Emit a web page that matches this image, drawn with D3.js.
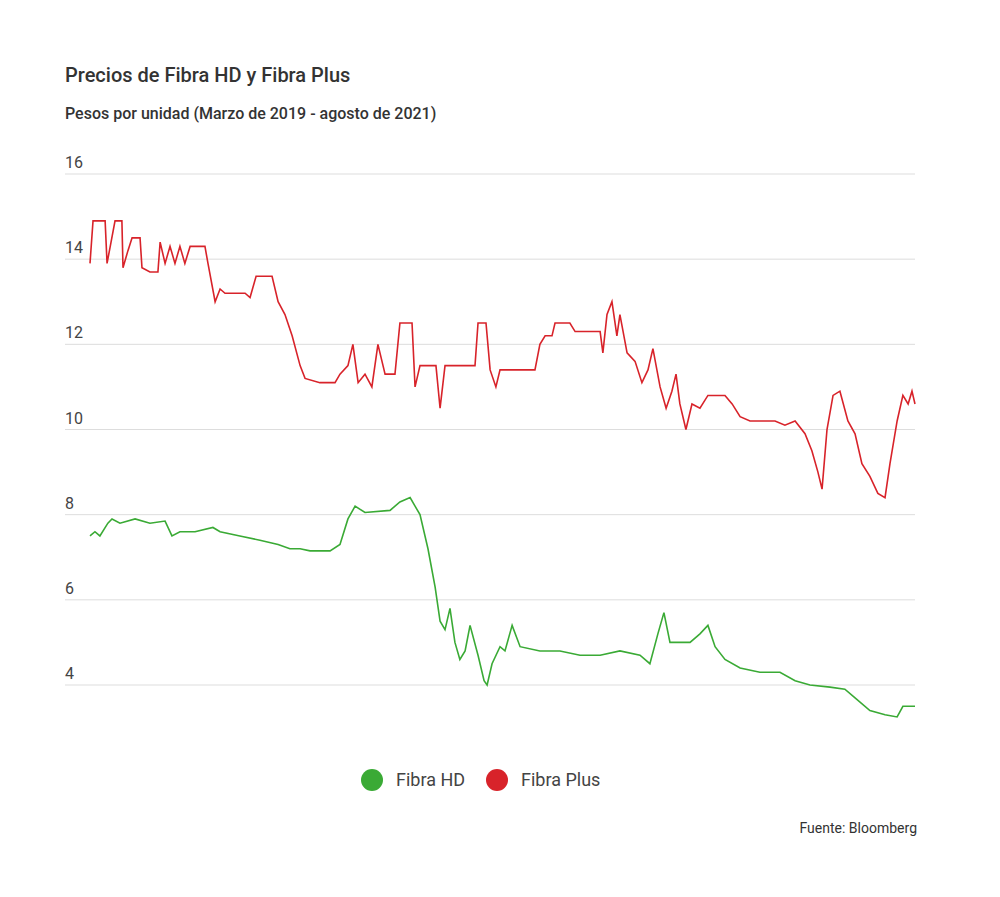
<!DOCTYPE html>
<html><head><meta charset="utf-8">
<script src="https://cdn.jsdelivr.net/npm/d3@7"></script>
<style>body{margin:0;background:#fff;font-family:Roboto,sans-serif}</style>
</head><body><svg id="chart" width="1000" height="897"></svg>
<script>
// months since March 2019
var plusMonths = [0,.11,.55,.62,.91,1.16,1.2,1.38,1.53,1.82,1.89,2.18,2.47,2.55,2.73,2.91,3.09,3.27,3.45,3.64,4.18,4.29,4.55,4.73,4.91,5.64,5.82,6.04,6.62,6.84,7.09,7.35,7.64,7.82,8.36,8.91,9.09,9.38,9.56,9.75,10,10.25,10.47,10.73,11.09,11.27,11.71,11.82,12,12.58,12.73,12.91,14,14.11,14.4,14.55,14.76,14.91,16.18,16.36,16.55,16.8,16.91,17.45,17.64,18.55,18.65,18.8,18.98,19.16,19.27,19.53,19.82,20.07,20.29,20.47,20.73,20.95,21.16,21.31,21.45,21.67,21.89,22.18,22.47,23.09,23.35,23.64,24,24.91,25.27,25.64,26,26.25,26.47,26.62,26.8,27.02,27.27,27.56,27.82,28.07,28.36,28.65,28.91,29.09,29.35,29.56,29.75,29.89,30];
var plusValues = [13.9,14.9,14.9,13.9,14.9,14.9,13.8,14.2,14.5,14.5,13.8,13.7,13.7,14.4,13.9,14.3,13.9,14.3,13.9,14.3,14.3,13.9,13.0,13.3,13.2,13.2,13.1,13.6,13.6,13.0,12.7,12.2,11.5,11.2,11.1,11.1,11.3,11.5,12.0,11.1,11.3,11.0,12.0,11.3,11.3,12.5,12.5,11.0,11.5,11.5,10.5,11.5,11.5,12.5,12.5,11.4,11.0,11.4,11.4,12.0,12.2,12.2,12.5,12.5,12.3,12.3,11.8,12.7,13.0,12.2,12.7,11.8,11.6,11.1,11.4,11.9,11.0,10.5,10.9,11.3,10.6,10.0,10.6,10.5,10.8,10.8,10.6,10.3,10.2,10.2,10.1,10.2,9.9,9.5,9.0,8.6,10.0,10.8,10.9,10.2,9.9,9.2,8.9,8.5,8.4,9.2,10.2,10.8,10.6,10.9,10.6];
var hdMonths = [0,.18,.36,.65,.8,1.09,1.64,2.18,2.73,2.98,3.27,3.82,4.47,4.73,5.45,6.18,6.84,7.27,7.64,8,8.73,9.09,9.38,9.64,10,10.91,11.27,11.64,11.82,12,12.29,12.55,12.73,12.91,13.09,13.27,13.45,13.64,13.82,14.11,14.33,14.44,14.62,14.91,15.09,15.35,15.64,16.36,17.09,17.82,18.55,19.27,20,20.36,20.65,20.87,21.09,21.82,22.18,22.47,22.73,23.09,23.64,24.36,25.09,25.64,26.18,26.91,27.45,27.82,28.36,28.91,29.35,29.56,30];
var hdValues = [7.5,7.6,7.5,7.8,7.9,7.8,7.9,7.8,7.85,7.5,7.6,7.6,7.7,7.6,7.5,7.4,7.3,7.2,7.2,7.15,7.15,7.3,7.9,8.2,8.05,8.1,8.3,8.4,8.2,8.0,7.2,6.3,5.5,5.3,5.8,5.0,4.6,4.8,5.4,4.7,4.1,4.0,4.5,4.9,4.8,5.4,4.9,4.8,4.8,4.7,4.7,4.8,4.7,4.5,5.2,5.7,5.0,5.0,5.2,5.4,4.9,4.6,4.4,4.3,4.3,4.1,4.0,3.95,3.9,3.7,3.4,3.3,3.25,3.5,3.5];
var yTicks = [4,6,8,10,12,14,16];

var svg = d3.select("#chart");
var x = d3.scaleLinear().domain([0,30]).range([90,915]);
var y = d3.scaleLinear().domain([4,16]).range([685,174]);

svg.append("text").attr("x",65).attr("y",82).attr("font-size",20).attr("font-weight",500).attr("fill","#333").text("Precios de Fibra HD y Fibra Plus");
svg.append("text").attr("x",65).attr("y",119).attr("font-size",16).attr("font-weight",500).attr("fill","#333").text("Pesos por unidad (Marzo de 2019 - agosto de 2021)");

var g = svg.append("g");
yTicks.forEach(function(t){
	g.append("line").attr("x1",65).attr("x2",915).attr("y1",y(t)).attr("y2",y(t)).attr("stroke","#ddd");
	g.append("text").attr("x",65).attr("y",y(t)-6).attr("font-size",16).attr("fill","#444").text(t);
});

var line = d3.line().x(function(d){return x(d[0]);}).y(function(d){return y(d[1]);});
svg.append("path").datum(d3.zip(plusMonths,plusValues)).attr("d",line).attr("fill","none").attr("stroke","#d8232a").attr("stroke-width",1.6);
svg.append("path").datum(d3.zip(hdMonths,hdValues)).attr("d",line).attr("fill","none").attr("stroke","#3aaa35").attr("stroke-width",1.6);

var legend = [["Fibra HD","#3aaa35",372],["Fibra Plus","#d8232a",497]];
legend.forEach(function(l){
	svg.append("circle").attr("cx",l[2]).attr("cy",780).attr("r",11).attr("fill",l[1]);
	svg.append("text").attr("x",l[2]+24).attr("y",786).attr("font-size",18).attr("fill","#444").text(l[0]);
});
svg.append("text").attr("x",917).attr("y",833).attr("text-anchor","end").attr("font-size",14).attr("fill","#333").text("Fuente: Bloomberg");
</script></body></html>
